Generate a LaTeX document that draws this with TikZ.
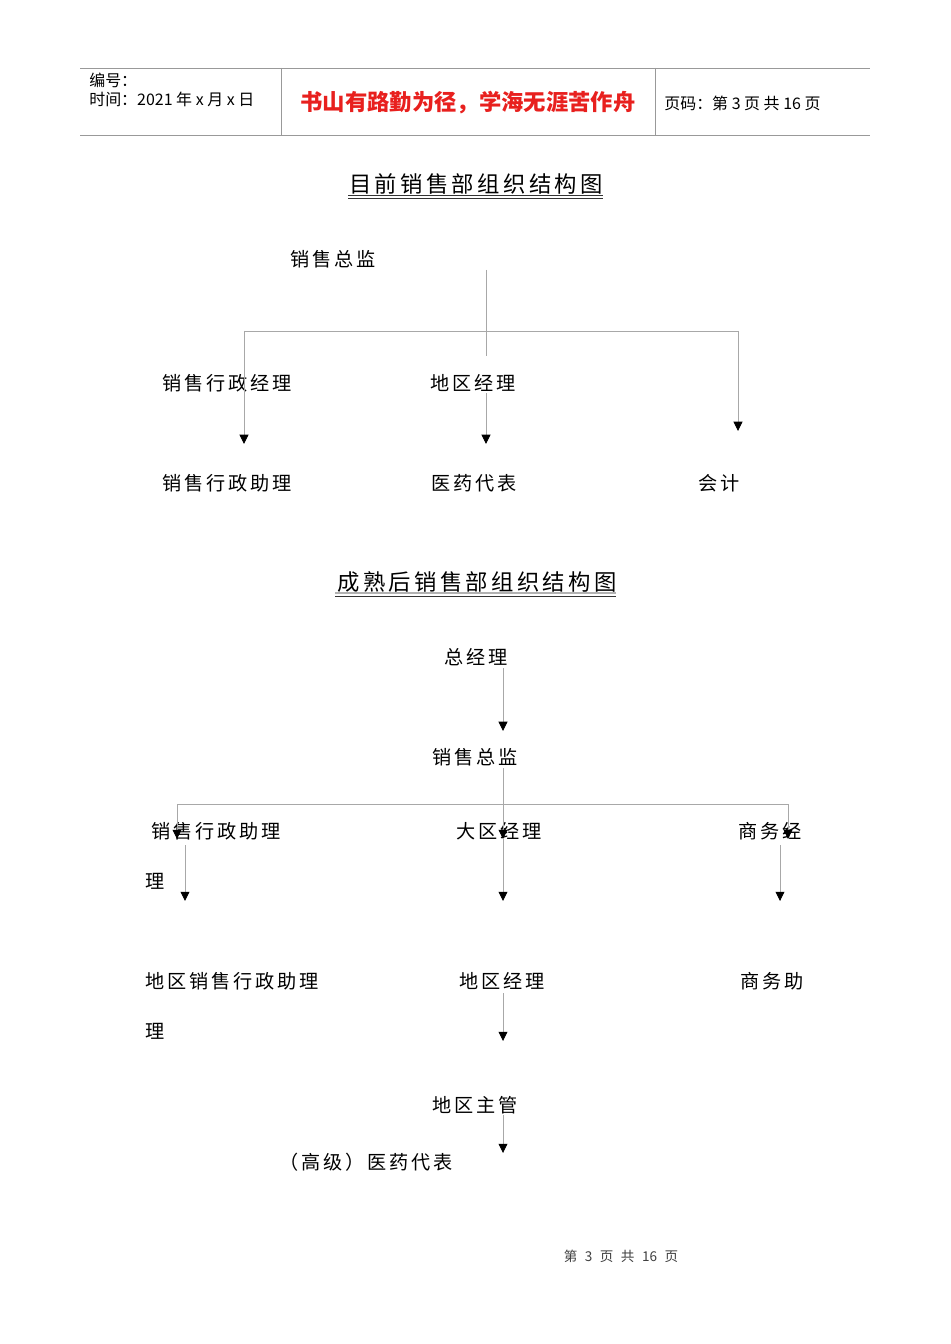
\documentclass[tikz,border=0pt]{standalone}
\usepackage{fontspec}
\setmainfont{Liberation Sans}
\newfontfamily\cjk[LetterSpace=15]{Noto Sans CJK SC}
\newfontfamily\hdr{Noto Sans CJK SC}
\usetikzlibrary{arrows.meta}
\definecolor{linegray}{HTML}{A8A8A8}
\definecolor{hdrred}{HTML}{E8201E}
\newcommand{\fsp}{\hspace{0.55em}}
\begin{document}
\begin{tikzpicture}[x=0.6265pt,y=-0.6265pt,
  lbl/.style={inner sep=0pt, anchor=west, font=\cjk\fontsize{12}{14}\selectfont},
  ttl/.style={inner sep=0pt, font=\cjk\fontsize{14}{16}\selectfont},
  hd/.style={inner sep=0pt, anchor=west, font=\hdr\fontsize{10}{12}\selectfont},
  rule/.style={draw=gray!80, line width=0.6pt},
  conn/.style={draw=linegray, line width=0.5pt},
  arr/.style={conn, -{Triangle[black,fill=black,width=5.6pt,length=5.8pt]}},
  uline/.style={draw=black!80, line width=0.5pt}]
\useasboundingbox[fill=white] (0,0) rectangle (950,1344);

% header
\coordinate (h1) at (80,68); \coordinate (h2) at (870,68);
\coordinate (h3) at (80,135); \coordinate (h4) at (870,135);
\coordinate (v1a) at (281,68); \coordinate (v1b) at (281,135);
\coordinate (v2a) at (655,68); \coordinate (v2b) at (655,135);
\draw[rule] (h1) -- (h2);
\draw[rule] (h3) -- (h4);
\draw[rule] (v1a) -- (v1b);
\draw[rule] (v2a) -- (v2b);
\node[hd] (hn) at (89,80) {编号：};
\node[hd] (ht) at (89,99) {时间：2021 年 x 月 x 日};
\node[inner sep=0pt, text=hdrred, font=\hdr\bfseries\fontsize{14}{16}\selectfont] (motto) at (468,103) {书山有路勤为径，学海无涯苦作舟};
\node[hd] (hp) at (664,103) {页码：第 3 页 共 16 页};

% title 1
\node[ttl] (t1) at (476,184) {目前销售部组织结构图};
\coordinate (u1a) at (348,195); \coordinate (u1b) at (603,195);
\coordinate (u1c) at (348,198); \coordinate (u1d) at (603,198);
\draw[uline] (u1a) -- (u1b);
\draw[uline] (u1c) -- (u1d);

% chart 1
\node[lbl] (a0) at (290,259) {销售总监};
\node[lbl] (a1) at (162,383) {销售行政经理};
\node[lbl] (a2) at (430,383) {地区经理};
\node[lbl] (a3) at (162,483) {销售行政助理};
\node[lbl] (a4) at (431,483) {医药代表};
\node[lbl] (a5) at (698,483) {会计};
\coordinate (p1) at (486,270); \coordinate (p2) at (486,356);
\coordinate (pl) at (244,331); \coordinate (pr) at (738,331);
\coordinate (pla) at (244,444); \coordinate (pra) at (738,431);
\coordinate (pm1) at (486,393); \coordinate (pm2) at (486,444);
\draw[conn] (p1) -- (p2);
\draw[conn] (pl) -- (pr);
\draw[arr] (pl) -- (pla);
\draw[arr] (pm1) -- (pm2);
\draw[arr] (pr) -- (pra);

% title 2
\node[ttl] (t2) at (477,582) {成熟后销售部组织结构图};
\coordinate (u2a) at (335,593); \coordinate (u2b) at (616,593);
\coordinate (u2c) at (335,596); \coordinate (u2d) at (616,596);
\draw[draw=gray!60, line width=0.7pt] (u2a) -- (u2b);
\draw[uline] (u2c) -- (u2d);

% chart 2
\node[lbl] (b0) at (444,657) {总经理};
\node[lbl] (b1) at (432,757) {销售总监};
\node[lbl] (b2) at (151,831) {销售行政助理};
\node[lbl] (b2b) at (145,881) {理};
\node[lbl] (b3) at (456,831) {大区经理};
\node[lbl] (b4) at (738,831) {商务经};
\node[lbl] (b5) at (145,981) {地区销售行政助理};
\node[lbl] (b5b) at (145,1031) {理};
\node[lbl] (b6) at (459,981) {地区经理};
\node[lbl] (b7) at (740,981) {商务助};
\node[lbl] (b8) at (432,1105) {地区主管};
\node[lbl] (b9) at (279,1162) {（高级）医药代表};

\coordinate (q0a) at (503,668); \coordinate (q0b) at (503,731);
\draw[arr] (q0a) -- (q0b);
\coordinate (q1a) at (503,768); \coordinate (q1b) at (503,839); \coordinate (q1c) at (503,901);
\draw[arr] (q1a) -- (q1b);
\draw[arr] (q1b) -- (q1c);
\coordinate (ql) at (177,804); \coordinate (qr) at (788,804);
\coordinate (qla) at (177,839); \coordinate (qra) at (788,839);
\draw[conn] (ql) -- (qr);
\draw[arr] (ql) -- (qla);
\draw[arr] (qr) -- (qra);
\coordinate (ql2a) at (185,845); \coordinate (ql2b) at (185,901);
\coordinate (qr2a) at (780,845); \coordinate (qr2b) at (780,901);
\draw[arr] (ql2a) -- (ql2b);
\draw[arr] (qr2a) -- (qr2b);
\coordinate (q2a) at (503,993); \coordinate (q2b) at (503,1041);
\draw[arr] (q2a) -- (q2b);
\coordinate (q3a) at (503,1115); \coordinate (q3b) at (503,1153);
\draw[arr] (q3a) -- (q3b);

% footer
\node[inner sep=0pt, text=black!75, font=\hdr\fontsize{8.5}{10}\selectfont] (ft) at (621,1256) {第\fsp 3\fsp 页\fsp 共\fsp 16\fsp 页};
\end{tikzpicture}
\end{document}
